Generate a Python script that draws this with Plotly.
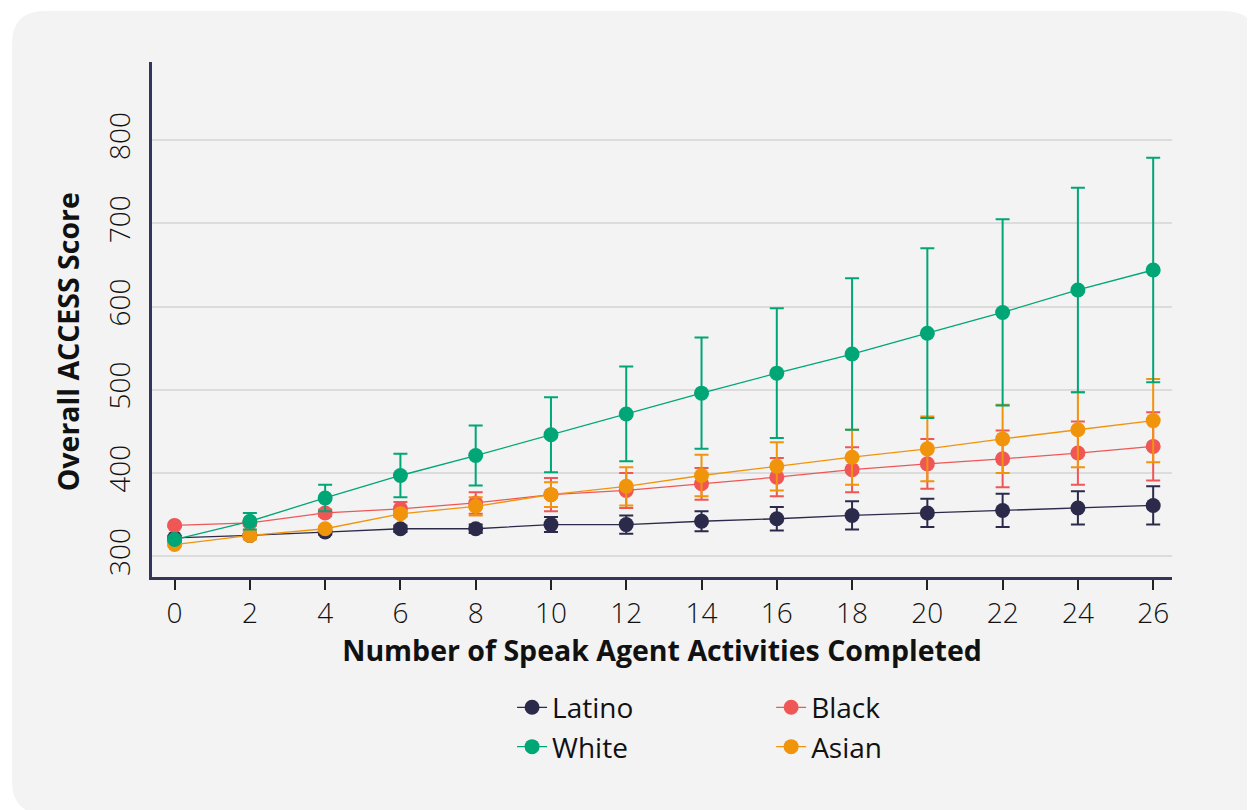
import plotly.graph_objects as go

activities = [0, 2, 4, 6, 8, 10, 12, 14, 16, 18, 20, 22, 24, 26]

latino = [322, 325, 329, 333, 333, 338, 338, 342, 345, 349, 352, 355, 358, 361]
latino_err = [2, 2, 3, 4, 5, 9, 11, 12, 14, 17, 17, 20, 20, 23]

black = [337, 340, 352, 357, 364, 374, 379, 387, 395, 404, 411, 417, 424, 432]
black_err = [2, 3, 4, 8, 13, 20, 21, 19, 23, 27, 30, 34, 38, 41]

white = [320, 342, 370, 397, 421, 446, 471, 496, 520, 543, 568, 593, 620, 644]
white_err = [3, 10, 16, 26, 36, 45, 57, 67, 78, 91, 102, 112, 123, 135]

asian = [314, 325, 333, 351, 360, 374, 384, 397, 408, 419, 429, 441, 452, 463]
asian_err = [2, 5, 3, 4, 11, 15, 23, 25, 29, 33, 39, 41, 45, 50]

# (name, values, errors, colour, legend id)
series = [
    ("Latino", latino, latino_err, "#2b2a4a", "legend"),
    ("Black", black, black_err, "#f05656", "legend2"),
    ("Asian", asian, asian_err, "#f0940c", "legend2"),
    ("White", white, white_err, "#00a676", "legend"),
]
legend_rank = {"Latino": 1, "White": 2, "Black": 1, "Asian": 2}

FONT = "Open Sans"
TXT = "#111111"
W, H = 1247, 802
L, R, T, B = 144, 83, 54, 233

fig = go.Figure()
for name, vals, err, col, leg in series:
    fig.add_trace(go.Scatter(
        x=activities, y=vals, name=name, mode="lines+markers",
        line=dict(color=col, width=1.3),
        marker=dict(color=col, size=15),
        error_y=dict(type="data", array=err, visible=True, color=col,
                     thickness=2, width=7),
        legend=leg, legendrank=legend_rank[name],
    ))


def px2paper(px, py):
    return ((px - L) / (W - L - R), (H - B - py) / (H - T - B))


rad = 33
x0, y0, x1, y1 = 4, 3, W + 2, H + 4
pts = {
    "a": px2paper(x0, y0 + rad), "b": px2paper(x0, y0), "c": px2paper(x0 + rad, y0),
    "d": px2paper(x1 - rad, y0), "e": px2paper(x1, y0), "f": px2paper(x1, y0 + rad),
    "g": px2paper(x1, y1), "h": px2paper(x0 + rad, y1), "i": px2paper(x0, y1),
    "j": px2paper(x0, y1 - rad),
}
p = lambda k: f"{pts[k][0]:.5f},{pts[k][1]:.5f}"
path = (f"M{p('a')} Q{p('b')} {p('c')} L{p('d')} Q{p('e')} {p('f')} "
        f"L{p('g')} L{p('h')} Q{p('i')} {p('j')} Z")

fig.add_shape(type="path", path=path, xref="paper", yref="paper",
              fillcolor="#f3f3f3", line=dict(width=0), layer="below")

leg_common = dict(
    orientation="v", yanchor="top", xanchor="left", y=-0.205,
    font=dict(size=28, family=FONT, color=TXT),
    bgcolor="rgba(0,0,0,0)", itemwidth=30, traceorder="normal",
)

fig.update_layout(
    width=W, height=H,
    margin=dict(l=L, r=R, t=T, b=B, autoexpand=False),
    paper_bgcolor="white",
    plot_bgcolor="rgba(0,0,0,0)",
    font=dict(family=FONT, color=TXT, size=24),
    showlegend=True,
    legend=dict(x=0.353, **leg_common),
    legend2=dict(x=0.607, **leg_common),
    xaxis=dict(
        range=[-0.6, 26.5], tickmode="array", tickvals=activities,
        ticktext=[str(a) for a in activities],
        showgrid=False, zeroline=False,
        showline=True, linecolor="#35345a", linewidth=2.5,
        ticks="outside", ticklen=10, tickwidth=1.5, tickcolor="#222222",
        tickfont=dict(size=28, family=FONT, color=TXT, weight=300),
        title=dict(text="<b>Number of Speak Agent Activities Completed</b>",
                   font=dict(size=28.5, family=FONT, color=TXT), standoff=9),
    ),
    yaxis=dict(
        range=[275, 894], tick0=300, dtick=100,
        showgrid=True, gridcolor="#dcdcdc", gridwidth=1.5,
        zeroline=False,
        showline=True, linecolor="#35345a", linewidth=2.5,
        ticks="", tickangle=-90, ticklabelstandoff=8,
        tickfont=dict(size=28, family=FONT, color=TXT, weight=300),
        title=dict(text="<b>Overall ACCESS Score</b>" + "&nbsp;" * 6,
                   font=dict(size=28.5, family=FONT, color=TXT), standoff=13),
    ),
)

fig.write_html("out.html")
